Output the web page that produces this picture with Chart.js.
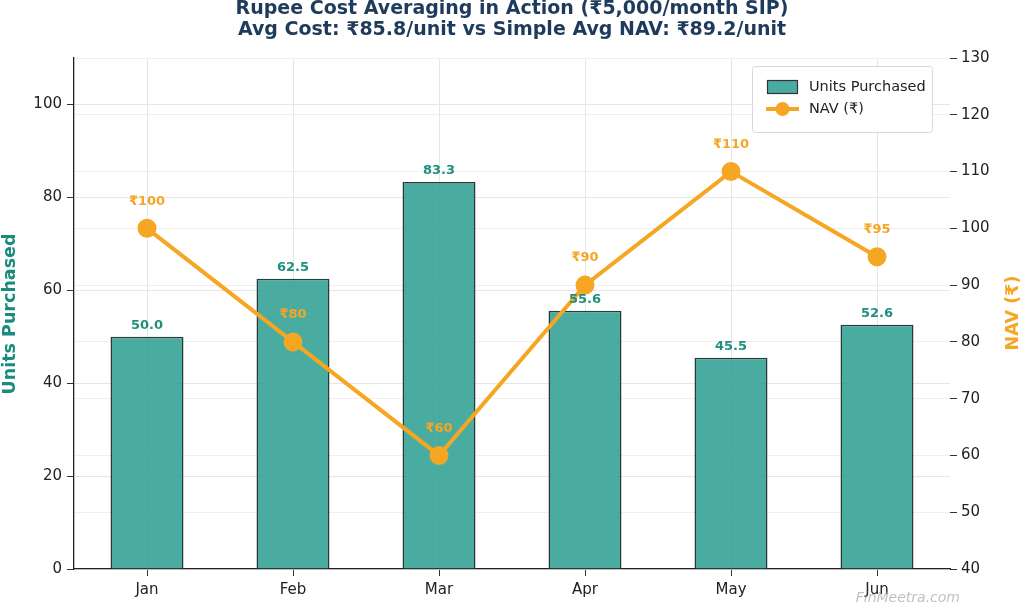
<!DOCTYPE html>
<html>
<head>
<meta charset="utf-8">
<script src="https://cdn.jsdelivr.net/npm/chart.js@4.4.1/dist/chart.umd.min.js"></script>
<style>
  html, body { margin: 0; padding: 0; background: #fff; }
  #wrap { width: 1024px; height: 606px; position: relative; }
</style>
</head>
<body>
<div id="wrap"><canvas id="c" width="1024" height="606"></canvas></div>
<script>
// data
const months = ['Jan', 'Feb', 'Mar', 'Apr', 'May', 'Jun'];
const unitsBought = [50.0, 62.5, 83.3, 55.6, 45.5, 52.6];
const navPrice = [100, 80, 60, 90, 110, 95];
const titleLines = ['Rupee Cost Averaging in Action (₹5,000/month SIP)', 'Avg Cost: ₹85.8/unit vs Simple Avg NAV: ₹89.2/unit'];

const TEAL = 'rgba(42, 157, 143, 0.85)';
const TEAL_TXT = '#1f8f80';
const ORANGE = '#f5a623';
const FONT = "'DejaVu Sans', sans-serif";

// title, labels, legend and watermark drawn by hand
const extras = {
  id: 'extras',
  afterDatasetsDraw(chart) {
    const ctx = chart.ctx;
    const yL = chart.scales.y, yR = chart.scales.y2, x = chart.scales.x;
    ctx.save();
    ctx.textAlign = 'center';
    ctx.textBaseline = 'middle';
    ctx.font = 'bold 13px ' + FONT;
    ctx.fillStyle = TEAL_TXT;
    unitsBought.forEach((v, i) => {
      ctx.fillText(v.toFixed(1), x.getPixelForValue(i), yL.getPixelForValue(v) - 11);
    });
    ctx.fillStyle = ORANGE;
    navPrice.forEach((v, i) => {
      ctx.fillText('₹' + v, x.getPixelForValue(i), yR.getPixelForValue(v) - 27);
    });

    // legend
    const lx = 752, ly = 66, lw = 180, lh = 66;
    ctx.fillStyle = 'rgba(255,255,255,0.85)';
    ctx.strokeStyle = '#d8d8d8';
    ctx.lineWidth = 1;
    ctx.beginPath();
    ctx.roundRect(lx + 0.5, ly + 0.5, lw, lh, 3);
    ctx.fill();
    ctx.stroke();
    ctx.fillStyle = TEAL;
    ctx.fillRect(767, 80, 30, 13);
    ctx.strokeStyle = '#333';
    ctx.lineWidth = 1.2;
    ctx.strokeRect(767.5, 80.5, 30, 13);
    ctx.strokeStyle = ORANGE;
    ctx.lineWidth = 4;
    ctx.beginPath();
    ctx.moveTo(766, 109);
    ctx.lineTo(799, 109);
    ctx.stroke();
    ctx.fillStyle = ORANGE;
    ctx.beginPath();
    ctx.arc(782.5, 109, 7, 0, Math.PI * 2);
    ctx.fill();
    ctx.fillStyle = '#222';
    ctx.textAlign = 'left';
    ctx.font = '14.5px ' + FONT;
    ctx.fillText('Units Purchased', 809, 87);
    ctx.fillText('NAV (₹)', 809, 109);

    // title
    ctx.textAlign = 'center';
    ctx.fillStyle = '#1f3b5c';
    ctx.font = 'bold 19px ' + FONT;
    ctx.fillText(titleLines[0], 512, 9);
    ctx.fillText(titleLines[1], 512, 30);

    // axis titles
    ctx.font = 'bold 17.5px ' + FONT;
    ctx.save();
    ctx.translate(10, 314);
    ctx.rotate(-Math.PI / 2);
    ctx.fillStyle = '#1a8c7d';
    ctx.fillText('Units Purchased', 0, 0);
    ctx.restore();
    ctx.save();
    ctx.translate(1013, 313);
    ctx.rotate(-Math.PI / 2);
    ctx.fillStyle = ORANGE;
    ctx.fillText('NAV (₹)', 0, 0);
    ctx.restore();

    // watermark
    ctx.fillStyle = 'rgba(150,150,150,0.6)';
    ctx.font = 'italic 14px ' + FONT;
    ctx.textAlign = 'right';
    ctx.fillText('FinMeetra.com', 960, 598);
    ctx.restore();
  }
};

new Chart(document.getElementById('c'), {
  data: {
    labels: months,
    datasets: [
      {
        type: 'line',
        label: 'NAV (₹)',
        data: navPrice,
        yAxisID: 'y2',
        borderColor: ORANGE,
        backgroundColor: ORANGE,
        borderWidth: 4,
        pointRadius: 7.5,
        pointBackgroundColor: ORANGE,
        pointBorderColor: ORANGE,
        tension: 0,
        order: 0
      },
      {
        type: 'bar',
        label: 'Units Purchased',
        data: unitsBought,
        yAxisID: 'y',
        backgroundColor: TEAL,
        borderColor: '#2e3a3a',
        borderWidth: 1.5,
        categoryPercentage: 1,
        barPercentage: 0.5,
        order: 1
      }
    ]
  },
  options: {
    responsive: false,
    animation: false,
    layout: { padding: { top: 58, left: 0, right: 0, bottom: 0 } },
    plugins: { legend: { display: false }, tooltip: { enabled: false }, title: { display: false } },
    scales: {
      x: {
        offset: true,
        grid: { color: '#e6e6e6', offset: false, tickLength: 7, tickColor: '#333', drawTicks: true },
        border: { color: '#222', width: 1.3 },
        ticks: { color: '#222', font: { family: FONT, size: 15 }, padding: 5 },
        afterFit(s) { s.height = 37; }
      },
      y: {
        position: 'left',
        min: 0, max: 110,
        grid: { color: '#e6e6e6', tickColor: '#333', tickLength: 7 },
        border: { color: '#222', width: 1.3 },
        ticks: { stepSize: 20, color: '#222', font: { family: FONT, size: 15 }, padding: 5 },
        afterBuildTicks(s) { s.ticks = s.ticks.filter(t => t.value <= 100); },
        afterFit(s) { s.width = 74; }
      },
      y2: {
        position: 'right',
        min: 40, max: 130,
        grid: { color: '#efefef', tickColor: '#333', tickLength: 7, drawOnChartArea: true },
        border: { display: false },
        ticks: { stepSize: 10, color: '#222', font: { family: FONT, size: 15 }, padding: 4 },
        afterFit(s) { s.width = 74; }
      }
    }
  },
  plugins: [extras]
});
</script>
</body>
</html>
